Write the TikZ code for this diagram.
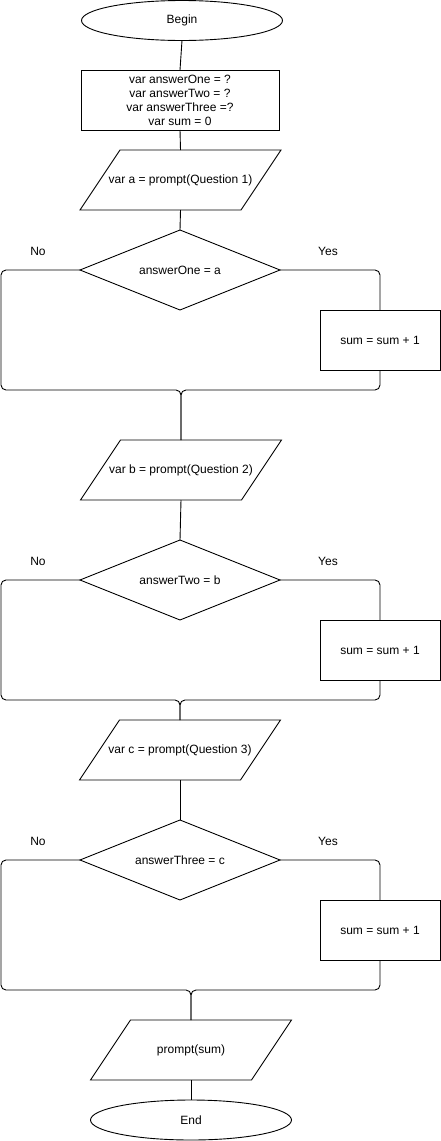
\documentclass[tikz,border=0pt]{standalone}
\usepackage{fontspec}
\setmainfont{Liberation Sans}
\usetikzlibrary{shapes.geometric}
\newcommand\drawpara[1]{\draw ([xshift=40pt]#1.north west) -- (#1.north east) -- ([xshift=-40pt]#1.south east) -- (#1.south west) -- cycle;}
\newcommand\drawdiam[1]{\draw (#1.north) -- (#1.east) -- (#1.south) -- (#1.west) -- cycle;}
\begin{document}
\begin{tikzpicture}[x=1pt,y=-1pt,line width=0.9pt,
  every node/.style={font=\fontsize{12pt}{14pt}\selectfont, align=center, inner sep=0pt, outer sep=0pt},
  term/.style={draw, ellipse, minimum width=201pt, minimum height=40pt},
  procbox/.style={draw, rectangle, minimum width=198pt, minimum height=60pt},
  sumbox/.style={draw, rectangle, minimum width=120pt, minimum height=60pt},
  iobox/.style={rectangle, minimum width=201pt, minimum height=60pt},
  decision/.style={rectangle, minimum width=200pt, minimum height=80pt},
  branch/.style={rounded corners=5pt},
  lbl/.style={}]
\useasboundingbox (0,0) rectangle (441,1141);
% top
\node[term] (begin) at (182,20.5) {Begin};
\node[procbox] (init) at (180,100) {var answerOne = ?\\var answerTwo = ?\\var answerThree =?\\var sum = 0};
\node[iobox] (p1) at (180.5,180) {var a = prompt(Question 1)};
\node[decision] (d1) at (180,270) {answerOne = a};
\node[sumbox] (s1) at (380,340) {sum = sum + 1};
\node[lbl] (no1) at (38,251) {No};
\node[lbl] (yes1) at (328,251) {Yes};
\coordinate (m1) at (181,390);
\node[iobox] (p2) at (181,470) {var b = prompt(Question 2)};
\node[decision] (d2) at (180,580) {answerTwo = b};
\node[sumbox] (s2) at (380,650) {sum = sum + 1};
\node[lbl] (no2) at (38,561) {No};
\node[lbl] (yes2) at (328,561) {Yes};
\coordinate (m2) at (180,700);
\node[iobox] (p3) at (180,750) {var c = prompt(Question 3)};
\node[decision] (d3) at (180,860) {answerThree = c};
\node[sumbox] (s3) at (380,930) {sum = sum + 1};
\node[lbl] (no3) at (38,841) {No};
\node[lbl] (yes3) at (328,841) {Yes};
\coordinate (m3) at (191,990);
\node[iobox] (p4) at (191,1050) {prompt(sum)};
\node[term] (end) at (191,1120) {End};
% outlines
\drawpara{p1}\drawpara{p2}\drawpara{p3}\drawpara{p4}
\drawdiam{d1}\drawdiam{d2}\drawdiam{d3}
% connectors
\draw (begin.south) -- (init.north);
\draw (init.south) -- (p1.north);
\draw (p1.south) -- (d1.north);
\draw[branch] (d1.west) -- (1,270) -- (1,390) -- (m1) -- (p2.north);
\draw[branch] (d1.east) -- (380,270) -- (s1.north);
\draw[branch] (s1.south) -- (380,390) -- (m1) -- (p2.north);
\draw (p2.south) -- (d2.north);
\draw[branch] (d2.west) -- (1,580) -- (1,700) -- (m2) -- (p3.north);
\draw[branch] (d2.east) -- (380,580) -- (s2.north);
\draw[branch] (s2.south) -- (380,700) -- (m2) -- (p3.north);
\draw (p3.south) -- (d3.north);
\draw[branch] (d3.west) -- (1,860) -- (1,990) -- (m3) -- (p4.north);
\draw[branch] (d3.east) -- (380,860) -- (s3.north);
\draw[branch] (s3.south) -- (380,990) -- (m3) -- (p4.north);
\draw (p4.south) -- (end.north);
\end{tikzpicture}
\end{document}
